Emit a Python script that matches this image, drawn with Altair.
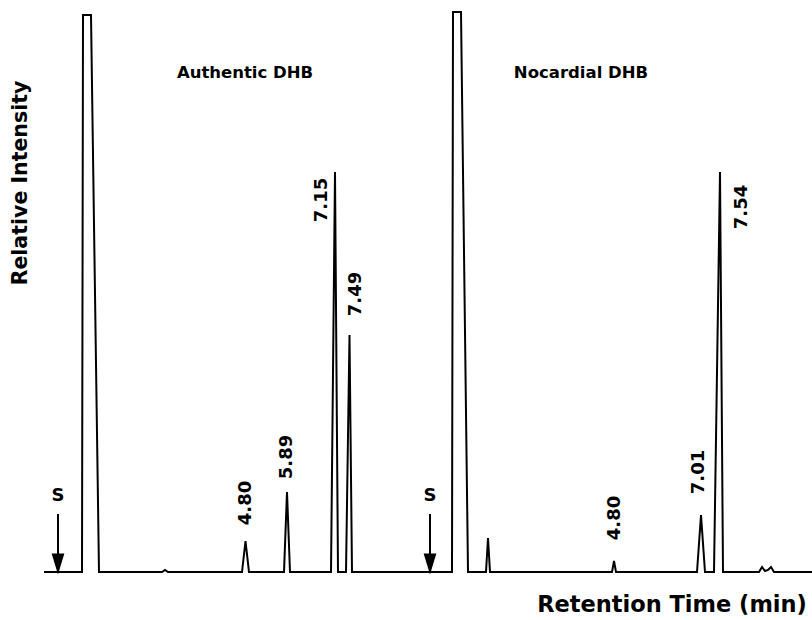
import altair as alt
import pandas as pd

# Chromatogram traces: position along the recorder chart and relative intensity above baseline
left_pos = [44, 82, 83, 91, 99, 162, 165, 168, 242, 245.5, 249, 284, 287, 290,
            331, 335, 338, 346, 349.5, 352, 400]
left_int = [0, 0, 557, 557, 0, 0, 2, 0, 0, 31, 0, 0, 80, 0,
            0, 400, 0, 0, 237, 0, 0]

right_pos = [400, 452, 453, 461, 468, 486, 488, 490, 612, 614, 616, 697, 701, 705,
             714, 720, 723, 759, 762, 765, 768, 771, 774, 812]
right_int = [0, 0, 560, 560, 0, 0, 34, 0, 0, 11, 0, 0, 57, 0,
             0, 400, 0, 0, 5, 1, 2, 5, 0, 0]

# Peak labels (retention times, min)
peak_labels = ["4.80", "5.89", "7.15", "7.49", "4.80", "7.01", "7.54"]
peak_label_pos = [246, 287, 322, 356, 615, 699, 742]
peak_label_int = [69, 115, 372, 278, 54, 100, 365]

# Injection (S) markers
s_pos = [58, 430]
s_label_int = 76
s_arrow_top = 58
s_arrow_bottom = 16
s_head_int = 8

panel_titles = ["Authentic DHB", "Nocardial DHB"]
panel_title_pos = [245, 581]
panel_title_int = 499

y_title = "Relative Intensity"
x_title = "Retention Time (min)"

FONT = "DejaVu Sans"

rows = []
for i, (p, v) in enumerate(zip(left_pos, left_int)):
    rows.append({"trace": "Authentic", "i": i, "pos": p, "intensity": v})
for i, (p, v) in enumerate(zip(right_pos, right_int)):
    rows.append({"trace": "Nocardial", "i": i, "pos": p, "intensity": v})
trace_df = pd.DataFrame(rows)

xs = alt.Scale(domain=[0, 812], nice=False, zero=False)
ys = alt.Scale(domain=[-48, 572], nice=False, zero=False)

X = lambda f: alt.X(f, type="quantitative", scale=xs, axis=None)
Y = lambda f: alt.Y(f, type="quantitative", scale=ys, axis=None)

lines = alt.Chart(trace_df).mark_line(
    color="black", strokeWidth=2, strokeJoin="miter", clip=True
).encode(x=X("pos"), y=Y("intensity"), detail="trace:N", order="i:Q")

labels_df = pd.DataFrame({"label": peak_labels, "pos": peak_label_pos, "intensity": peak_label_int})
labels = alt.Chart(labels_df).mark_text(
    angle=270, font=FONT, fontWeight="bold", fontSize=18, align="center", baseline="middle", color="black"
).encode(x=X("pos"), y=Y("intensity"), text="label:N")

s_df = pd.DataFrame({"pos": s_pos, "lab": ["S", "S"], "ly": [s_label_int] * 2,
                     "top": [s_arrow_top] * 2, "bot": [s_arrow_bottom] * 2, "head": [s_head_int] * 2})
s_text = alt.Chart(s_df).mark_text(
    font=FONT, fontWeight="bold", fontSize=18, align="center", baseline="middle", color="black"
).encode(x=X("pos"), y=Y("ly"), text="lab:N")
s_shaft = alt.Chart(s_df).mark_rule(color="black", strokeWidth=2).encode(
    x=X("pos"), y=Y("top"), y2="bot:Q")
s_head = alt.Chart(s_df).mark_point(
    shape="M -0.6 -1 L 0.6 -1 L 0 1 Z", filled=True, color="black", size=450, opacity=1
).encode(x=X("pos"), y=Y("head"))

t_df = pd.DataFrame({"t": panel_titles, "pos": panel_title_pos, "intensity": [panel_title_int] * 2})
titles = alt.Chart(t_df).mark_text(
    font=FONT, fontWeight="bold", fontSize=16.5, align="center", baseline="middle", color="black"
).encode(x=X("pos"), y=Y("intensity"), text="t:N")

ax_df = pd.DataFrame({"t": [y_title, x_title], "pos": [21, 672], "intensity": [389, -33]})
yt = alt.Chart(ax_df.iloc[[0]]).mark_text(
    angle=270, font=FONT, fontWeight="bold", fontSize=20.5, align="center", baseline="middle", color="black"
).encode(x=X("pos"), y=Y("intensity"), text="t:N")
xt = alt.Chart(ax_df.iloc[[1]]).mark_text(
    font=FONT, fontWeight="bold", fontSize=22.5, align="center", baseline="middle", color="black"
).encode(x=X("pos"), y=Y("intensity"), text="t:N")

chart = alt.layer(lines, labels, s_shaft, s_head, s_text, titles, yt, xt).properties(
    width=812, height=620, padding=0, background="white"
).configure_view(stroke=None)

chart.save("out.html", embed_options={"renderer": "svg", "actions": False})
